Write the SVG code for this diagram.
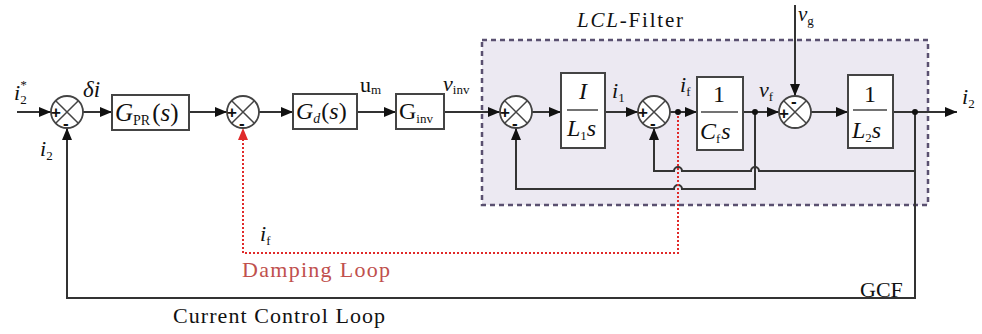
<svg xmlns="http://www.w3.org/2000/svg" width="982" height="334" viewBox="0 0 982 334">
<style>
.ln{fill:none;stroke:#333;stroke-width:2}
.box{fill:#fff;stroke:#444;stroke-width:2}
.sum{fill:#fff;stroke:#444;stroke-width:1.8}
.x{stroke:#444;stroke-width:1.5}
.red{fill:none;stroke:#e02a2a;stroke-width:2;stroke-dasharray:2 2}
.t{font-family:"Liberation Serif",serif;fill:#111}
.it{font-style:italic}
.sg{font-family:"Liberation Sans",sans-serif;font-size:17px;font-weight:bold;fill:#111}
</style>
<defs>
<marker id="ar" markerUnits="userSpaceOnUse" markerWidth="12" markerHeight="10" refX="12" refY="5" orient="auto"><path d="M0,0 L12,5 L0,10 z" fill="#111"/></marker>
<marker id="arr" markerUnits="userSpaceOnUse" markerWidth="12" markerHeight="10" refX="12" refY="5" orient="auto"><path d="M0,0 L12,5 L0,10 z" fill="#e02a2a"/></marker>
</defs>
<rect width="982" height="334" fill="#fff"/>
<g id="lcl-filter">
<rect x="482" y="40" width="446" height="165" fill="#ECE9F2" stroke="#5A5070" stroke-width="2.5" stroke-dasharray="5 4"/>
<text class="t" x="577" y="27" font-size="21" textLength="106"><tspan class="it">LCL</tspan>-Filter</text>
</g>
<g id="connectors">
<path class="ln" d="M17,112 H51" marker-end="url(#ar)"/>
<path class="ln" d="M83,112 H112" marker-end="url(#ar)"/>
<path class="ln" d="M189,112 H227" marker-end="url(#ar)"/>
<path class="ln" d="M259,112 H293" marker-end="url(#ar)"/>
<path class="ln" d="M357,112 H396" marker-end="url(#ar)"/>
<path class="ln" d="M444,112 H500" marker-end="url(#ar)"/>
<path class="ln" d="M532,112 H561" marker-end="url(#ar)"/>
<path class="ln" d="M605,112 H638" marker-end="url(#ar)"/>
<path class="ln" d="M670,112 H697" marker-end="url(#ar)"/>
<path class="ln" d="M743,112 H779" marker-end="url(#ar)"/>
<path class="ln" d="M811,112 H848" marker-end="url(#ar)"/>
<path class="ln" d="M893,112 H957" marker-end="url(#ar)"/>
<path class="ln" d="M795,5 V96" marker-end="url(#ar)"/>
<path class="ln" d="M755,112 V189 H682 A4,4 0 0 0 674,189 H516 V128" marker-end="url(#ar)"/>
<path class="ln" d="M915,112 V171 H759 A4,4 0 0 0 751,171 H682 A4,4 0 0 0 674,171 H654 V128" marker-end="url(#ar)"/>
<path class="ln" d="M915,171 V298 H67 V128" marker-end="url(#ar)"/>
<path class="red" d="M678,112 V253 H243 V128" marker-end="url(#arr)"/>
<circle cx="678" cy="112" r="3" fill="#111"/>
<circle cx="755" cy="112" r="3" fill="#111"/>
<circle cx="915" cy="112" r="3" fill="#111"/>
</g>
<g id="sum1">
<circle class="sum" cx="67" cy="112" r="16"/>
<path class="x" d="M55.7,100.7 L78.3,123.3 M78.3,100.7 L55.7,123.3"/>
<text class="sg" x="51" y="118">+</text><text class="sg" x="63" y="129">-</text>
</g>
<g id="sum2">
<circle class="sum" cx="243" cy="112" r="16"/>
<path class="x" d="M231.7,100.7 L254.3,123.3 M254.3,100.7 L231.7,123.3"/>
<text class="sg" x="227" y="118">+</text><text class="sg" x="239" y="129">-</text>
</g>
<g id="sum3">
<circle class="sum" cx="516" cy="112" r="16"/>
<path class="x" d="M504.7,100.7 L527.3,123.3 M527.3,100.7 L504.7,123.3"/>
<text class="sg" x="500" y="118">+</text><text class="sg" x="512" y="129">-</text>
</g>
<g id="sum4">
<circle class="sum" cx="654" cy="112" r="16"/>
<path class="x" d="M642.7,100.7 L665.3,123.3 M665.3,100.7 L642.7,123.3"/>
<text class="sg" x="638" y="118">+</text><text class="sg" x="650" y="129">-</text>
</g>
<g id="sum5">
<circle class="sum" cx="795" cy="112" r="16"/>
<path class="x" d="M783.7,100.7 L806.3,123.3 M806.3,100.7 L783.7,123.3"/>
<text class="sg" x="779" y="119">+</text><text class="sg" x="791" y="107">-</text>
</g>
<g id="gpr">
<rect class="box" x="112" y="95" width="77" height="35"/>
<text class="t" x="115" y="121" font-size="25"><tspan class="it">G</tspan><tspan font-size="14" dy="4">PR</tspan><tspan dy="-4" dx="2">(</tspan><tspan class="it">s</tspan>)</text>
</g>
<g id="gd">
<rect class="box" x="293" y="94" width="64" height="35"/>
<text class="t" x="296" y="119" font-size="24"><tspan class="it">G</tspan><tspan class="it" font-size="14" dy="4">d</tspan><tspan dy="-4" dx="1">(</tspan><tspan class="it">s</tspan>)</text>
</g>
<g id="ginv">
<rect class="box" x="396" y="94" width="48" height="35"/>
<text class="t" x="399" y="119" font-size="24">G<tspan font-size="13" dy="4">inv</tspan></text>
</g>
<g id="l1">
<rect class="box" x="561" y="73" width="44" height="75"/>
<text class="t it" x="583" y="99" font-size="24" text-anchor="middle">I</text>
<line class="x" x1="567" y1="110" x2="598" y2="110"/>
<text class="t" x="567" y="136" font-size="24"><tspan class="it">L</tspan><tspan font-size="13" dy="4">1</tspan><tspan class="it" dy="-4">s</tspan></text>
</g>
<g id="cf">
<rect class="box" x="697" y="77" width="46" height="73"/>
<text class="t" x="719" y="102" font-size="24" text-anchor="middle">1</text>
<line class="x" x1="701" y1="112" x2="738" y2="112"/>
<text class="t" x="700" y="139" font-size="24"><tspan class="it">C</tspan><tspan font-size="13" dy="4">f</tspan><tspan class="it" dy="-4" dx="1">s</tspan></text>
</g>
<g id="l2">
<rect class="box" x="848" y="75" width="45" height="73"/>
<text class="t" x="870" y="102" font-size="24" text-anchor="middle">1</text>
<line class="x" x1="853" y1="110" x2="887" y2="110"/>
<text class="t" x="852" y="138" font-size="24"><tspan class="it">L</tspan><tspan font-size="13" dy="4">2</tspan><tspan class="it" dy="-4">s</tspan></text>
</g>
<g id="labels">
<text class="t it" x="14" y="100" font-size="22">i<tspan font-size="13" dy="4" font-style="normal">2</tspan><tspan font-size="13" dy="-15" dx="-7">*</tspan></text>
<text class="t it" x="40" y="156" font-size="22">i<tspan font-size="13" dy="4" font-style="normal">2</tspan></text>
<text class="t it" x="83" y="97" font-size="23">δi</text>
<text class="t" x="360" y="92" font-size="22">u<tspan font-size="13" dy="2">m</tspan></text>
<text class="t it" x="443" y="91" font-size="22">v<tspan font-size="13" dy="3" font-style="normal">inv</tspan></text>
<text class="t it" x="612" y="98" font-size="22">i<tspan font-size="13" dy="4" font-style="normal">1</tspan></text>
<text class="t it" x="680" y="92" font-size="22">i<tspan font-size="13" dy="4" font-style="normal">f</tspan></text>
<text class="t it" x="759" y="97" font-size="22">v<tspan font-size="13" dy="4" font-style="normal">f</tspan></text>
<text class="t it" x="798" y="21" font-size="21">v<tspan font-size="13" dy="4" font-style="normal">g</tspan></text>
<text class="t it" x="962" y="104" font-size="22">i<tspan font-size="13" dy="4" font-style="normal">2</tspan></text>
<text class="t it" x="260" y="241" font-size="22">i<tspan font-size="13" dy="4" font-style="normal">f</tspan></text>
<text class="t" x="860" y="297" font-size="22">GCF</text>
<text class="t" x="242" y="277" font-size="22" style="fill:#c0504d" textLength="148">Damping Loop</text>
<text class="t" x="173" y="323" font-size="22" textLength="212">Current Control Loop</text>
</g>
</svg>
